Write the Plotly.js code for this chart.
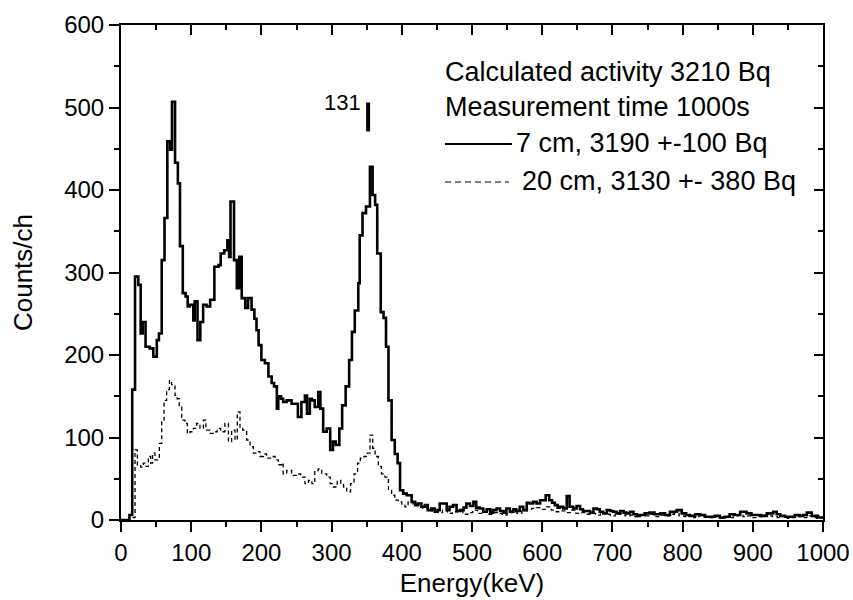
<!DOCTYPE html>
<html>
<head>
<meta charset="utf-8">
<script src="https://cdn.plot.ly/plotly-3.0.1.min.js"></script>
<style>html,body{margin:0;padding:0;background:#fff;}#chart{width:853px;height:600px;}</style>
</head>
<body>
<div id="chart"></div>
<script>
// 7 cm spectrum (bin left edge in keV, counts/ch)
var energy7 = [0,12,16,20,24.7,28,31,35,41,46,51,54,58,62,66,70,72.6,77,81,84,88,92,95,98,103,105,109,113,117,122,127,133,139,142,147,151.5,154,156,161,165,168.6,172,177,181,186,190,193,196,200,205,210,214.6,218,222,224,228,231,236,243,252,257,262,265,269,272,276,281,284,288,293,298,302,306,311,315,320,325,329,333,338,340,344,349,354.6,358.4,362,365,370,374,377.5,381,385.5,390,394,397.5,402,407,414,419,423,428,433,437,442,447,451,454,464,468,473,478,483,488,492,497,502,506,511,516,521,526,530,535,540,545,549,554,559,563,568,573,578,582,587,592,597,605,610,614,618,622,625,630,635,639,644,649,654,658,663,668,673,678,682,687,692,697,701,706,711,716,720,725,730,735,739,746,753,760,768,775,782,791.5,798.7,805,810,818,825,832,839,846,853,860,867,874,882,891,898,905,912,920,929,934,939,946,953,960,967,972,977,984,993,1000];
var counts7 = [0,6,158,295,285,226,240,210,208,198,218,226,315,366,459,449,507,433,408,332,275,271,259,261,242,265,218,240,261,259,267,307,309,323,327,339,319,386,315,281,319,269,257,269,255,244,230,212,194,190,174,166,162,135,150,147,143,145,141,125,143,151,129,147,145,137,155,135,107,111,85,95,91,111,139,162,194,228,254,287,345,372,380,428,394,382,323,252,245,210,145,97,80,69,36,32,30,22,18,20,16,18,12,14,10,12,20,12,16,18,11,12,15,20,17,22,15,14,10,13,9,12,14,11,9,14,10,13,11,16,12,21,20,22,20,24,30,24,21,18,15,16,14,29,16,14,17,13,11,11,9,14,13,10,8,12,11,10,8,11,9,8,10,7,5,6,8,9,7,8,6,10,12,8,6,5,7,6,4,4,5,3,4,7,6,10,8,6,6,5,8,10,7,5,4,4,6,5,6,9,5,3,3];

// 20 cm spectrum
var energy20 = [0,12,20,23.3,28,31.8,35.6,38.9,42.3,45,48.4,54.6,58,61.3,65,69,72,77,80,83,86.5,91,94.5,98.3,103,107.8,112.5,117.3,121,126.8,131.5,137,142,148,153,157.6,162.4,165.7,169.5,173.3,179,183.8,188.5,193.3,198,202.8,207.5,213,219.4,224,229,231,236,243,250,256,262,267,272,276,281,286,293,298,302.5,308,313,317,321.5,327,332,337,341,346,351,354.7,358.5,362,366.6,371,376,381,385.5,390,395,400,404.5,409,416,426,430,437,444,451,458,465,472,480,487,494,501,508,515,522,529,536,543,550,557,564,571,578,585,592,599,606,613,620,627,634,641,648,655,662,669,676,683,690,697,704,711,718,725,732,739,746,753,760,767,774,781,788,795,802,809,816,823,830,837,844,851,858,865,872,879,886,893,900,907,914,921,928,935,942,949,956,963,970,977,984,991,1000];
var counts20 = [0,3,85,67,64,69,65,77,69,81,73,93,121,145,158,169,164,151,147,137,121,117,105,107,111,117,111,121,109,105,107,111,107,117,95,109,97,131,111,109,97,89,81,83,77,80,75,77,73,67,69,56,60,54,56,52,44,48,44,60,62,56,52,44,40,48,44,40,34,44,56,69,75,77,81,103,87,77,65,56,52,36,30,24,22,18,16,22,18,16,14,11,12,9,12,8,10,11,7,9,12,8,10,7,9,8,6,9,10,8,11,13,14,15,13,16,12,10,11,9,12,8,9,7,8,6,9,7,5,7,8,5,6,4,6,5,7,4,6,5,7,8,5,4,6,3,5,4,3,5,2,4,3,5,6,4,5,3,4,6,5,4,3,5,2,3,4,3,5,3,2,2];

// I-131 line marker
var markerEnergy = [352, 352];
var markerCounts = [471, 506];
var markerLabel = "131";

var legendLines = ["Calculated activity 3210 Bq", "Measurement time 1000s"];
var seriesNames = ["7 cm, 3190 +-100 Bq", "20 cm, 3130 +- 380 Bq"];

var FONT = "Liberation Sans, Arial, sans-serif";

var traces = [
  {x: energy7, y: counts7, mode: "lines", line: {shape: "hv", color: "#000", width: 2.6}, name: seriesNames[0]},
  {x: energy20, y: counts20, mode: "lines", line: {shape: "hv", color: "#000", width: 1.3, dash: "4px,3px"}, name: seriesNames[1]},
  {x: markerEnergy, y: markerCounts, mode: "lines", line: {color: "#000", width: 4}, xaxis: "x2", yaxis: "y2", name: "131", showlegend: false}
];

function px2x(p) { return (p - 121) / 702; }
function py2y(p) { return (520 - p) / 495; }

var layout = {
  width: 853, height: 600,
  margin: {l: 121, r: 30, t: 25, b: 80},
  paper_bgcolor: "#fff", plot_bgcolor: "#fff",
  showlegend: false,
  font: {family: FONT, color: "#000"},
  xaxis: {
    range: [0, 1000], dtick: 100, tick0: 0,
    ticks: "outside", ticklen: 10, tickwidth: 2, tickcolor: "#000",
    minor: {dtick: 50, ticks: "outside", ticklen: 5, tickwidth: 2, tickcolor: "#000", showgrid: false},
    showline: true, linewidth: 2, linecolor: "#000", mirror: true,
    showgrid: false, zeroline: false,
    tickfont: {size: 24, family: FONT, color: "#000"},
    title: {text: "Energy(keV)", font: {size: 26, family: FONT, color: "#000"}, standoff: 9}
  },
  yaxis: {
    range: [0, 600], dtick: 100, tick0: 0,
    ticks: "outside", ticklen: 10, tickwidth: 2, tickcolor: "#000",
    minor: {dtick: 50, ticks: "outside", ticklen: 5, tickwidth: 2, tickcolor: "#000", showgrid: false},
    showline: true, linewidth: 2, linecolor: "#000", mirror: true,
    showgrid: false, zeroline: false,
    tickfont: {size: 24, family: FONT, color: "#000"},
    title: {text: "Counts/ch", font: {size: 26, family: FONT, color: "#000"}, standoff: 24}
  },
  xaxis2: {
    range: [0, 1000], dtick: 100, tick0: 0, overlaying: "x", side: "top", anchor: "y2",
    ticks: "inside", ticklen: 10, tickwidth: 2, tickcolor: "#000",
    minor: {dtick: 50, ticks: "inside", ticklen: 5, tickwidth: 2, tickcolor: "#000", showgrid: false},
    showticklabels: false, showgrid: false, zeroline: false, showline: false
  },
  yaxis2: {
    range: [0, 600], dtick: 100, tick0: 0, overlaying: "y", side: "right", anchor: "x2",
    ticks: "inside", ticklen: 9, tickwidth: 2, tickcolor: "#000",
    minor: {dtick: 50, ticks: "inside", ticklen: 5, tickwidth: 2, tickcolor: "#000", showgrid: false},
    showticklabels: false, showgrid: false, zeroline: false, showline: false
  },
  shapes: [
    {type: "line", xref: "paper", yref: "paper", x0: px2x(445), x1: px2x(512), y0: py2y(144), y1: py2y(144), line: {color: "#000", width: 2}},
    {type: "line", xref: "paper", yref: "paper", x0: px2x(445), x1: px2x(509), y0: py2y(182), y1: py2y(182), line: {color: "#000", width: 1.2, dash: "6px,4px"}}
  ],
  annotations: [
    {text: legendLines[0], xref: "paper", yref: "paper", x: px2x(443), y: py2y(72), xanchor: "left", yanchor: "middle", showarrow: false, font: {size: 27, family: FONT, color: "#000"}},
    {text: legendLines[1], xref: "paper", yref: "paper", x: px2x(443), y: py2y(107), xanchor: "left", yanchor: "middle", showarrow: false, font: {size: 27, family: FONT, color: "#000"}},
    {text: seriesNames[0], xref: "paper", yref: "paper", x: px2x(514), y: py2y(143), xanchor: "left", yanchor: "middle", showarrow: false, font: {size: 27, family: FONT, color: "#000"}},
    {text: seriesNames[1], xref: "paper", yref: "paper", x: px2x(520), y: py2y(181), xanchor: "left", yanchor: "middle", showarrow: false, font: {size: 27, family: FONT, color: "#000"}},
    {text: markerLabel, xref: "x", yref: "paper", x: markerEnergy[0] - 7, y: py2y(102), xanchor: "right", yanchor: "middle", showarrow: false, font: {size: 22, family: FONT, color: "#000"}}
  ]
};

Plotly.newPlot("chart", traces, layout, {displayModeBar: false, staticPlot: true});
</script>
</body>
</html>
